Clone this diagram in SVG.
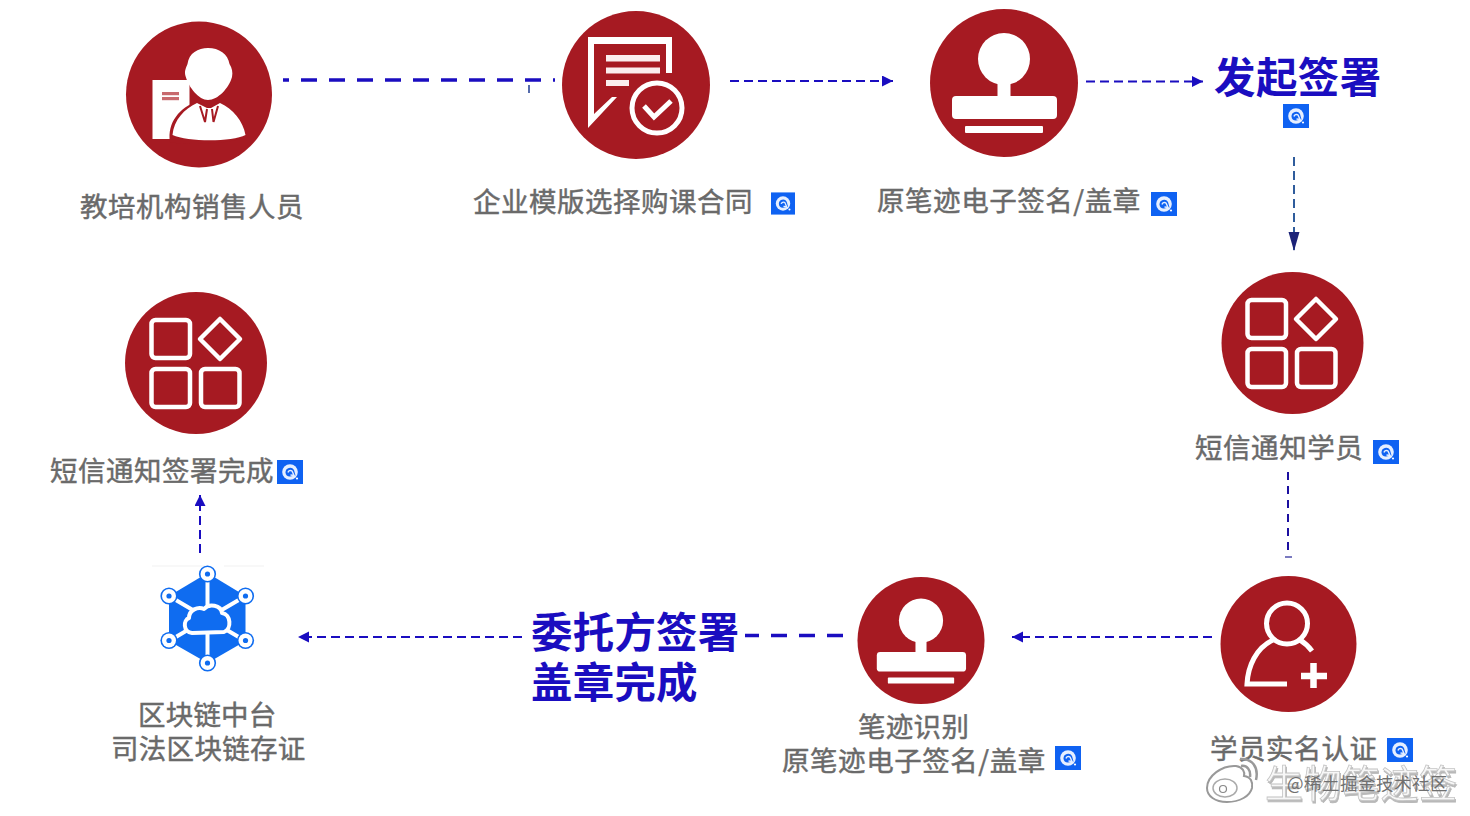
<svg xmlns="http://www.w3.org/2000/svg" width="1470" height="816" viewBox="0 0 1470 816">
<style>
text{font-family:"Noto Sans CJK SC","Noto Sans",sans-serif}
.lb{font-size:27.5px;font-weight:400;fill:#6a6a6a;stroke:#6a6a6a;stroke-width:.45}
.hd{font-size:41.5px;font-weight:700;fill:#1a0dc0}
.disc{fill:#a61a22}
.w{fill:#fff}
.ws{fill:none;stroke:#fff;stroke-width:4.5}
.c{fill:none;stroke:#1a0dc0}
.thin{stroke-width:2;stroke-dasharray:9 5}
.thick{stroke-width:3.6;stroke-dasharray:16 12}
</style>
<defs>
<filter id="wmshadow" x="-10%" y="-20%" width="120%" height="150%"><feDropShadow dx="1" dy="2" stdDeviation=".6" flood-color="#b8b8b8"/></filter>
<marker id="ah" markerUnits="userSpaceOnUse" markerWidth="12" markerHeight="12" refX="11" refY="5.5" orient="auto"><path d="M0 0L11 5.5L0 11Z" fill="#1a0dc0"/></marker>
<marker id="ahn" markerUnits="userSpaceOnUse" markerWidth="20" markerHeight="12" refX="19" refY="5.5" orient="auto"><path d="M0 0L19 5.5L0 11Z" fill="#1c2378"/></marker>
<symbol id="badge" width="26" height="24" viewBox="0 0 26 24" overflow="visible">
<rect width="26" height="24" fill="#0f62f2"/>
<circle cx="13" cy="12" r="7.800" fill="#e6efff"/>
<path d="M8.500 12.500a4.600 4.600 0 0 1 8.500-2.500l1.500 5.500L13 16.500a4.400 4.400 0 0 1-4.500-4Z" fill="#0f62f2"/>
<path d="M11 12.500a2.600 2.600 0 0 1 4-1.500l2 4.500-3.500-.5" fill="none" stroke="#e6efff" stroke-width="1.400"/>
<circle cx="20" cy="18.500" r="1.100" fill="#fff"/>
</symbol>
<g id="stamp-art">
<circle cx="0" cy="-24" r="26" class="w"/>
<rect x="-6.500" y="-5" width="13" height="20" class="w"/>
<rect x="-52" y="13" width="105" height="23" rx="4" class="w"/>
<rect x="-39" y="43" width="78" height="7" rx="1" class="w"/>
</g>
<g id="grid-art">
<rect x="-45" y="-43" width="38.500" height="38" rx="4" class="ws"/>
<rect x="-45" y="6" width="38.500" height="38" rx="4" class="ws"/>
<rect x="4.500" y="6" width="38.500" height="38" rx="4" class="ws"/>
<path d="M23.500 -44L43.500 -24L23.500 -4L3.500 -24Z" class="ws" stroke-linejoin="round"/>
</g>
<g id="hn"><circle r="8.600" fill="#0f6cf0"/><circle r="7" fill="#fff"/><circle r="2.600" fill="#0f6cf0"/></g>
</defs>
<rect width="1470" height="816" fill="#fff"/>

<g id="connectors">
<path class="c thick" d="M283 80H555" stroke-dashoffset="10"/>
<path d="M529 85V93" fill="none" stroke="#1c3a90" stroke-width="1.500"/>
<path class="c thin" d="M730 81H893" marker-end="url(#ah)"/>
<path class="c thin" d="M1086 81.500H1203" marker-end="url(#ah)"/>
<path d="M1294 157V251" fill="none" stroke="#2f5c9c" stroke-width="2" stroke-dasharray="9 5" marker-end="url(#ahn)"/>
<path d="M1288 472V554" fill="none" stroke="#1c10a0" stroke-width="2" stroke-dasharray="8 6"/>
<path d="M1285 557H1292" stroke="#7a7ac0" stroke-width="2"/>
<path class="c thin" d="M1212 637H1012" marker-end="url(#ah)"/>
<path class="c thick" d="M843 635.500H745"/>
<path class="c thin" d="M522 637H298" marker-end="url(#ah)"/>
<path class="c thin" d="M200 553V495" marker-end="url(#ah)"/>
</g>

<g id="node-sales">
<circle class="disc" cx="199" cy="94.500" r="73"/>
<rect x="152.500" y="80" width="37" height="59" class="w"/>
<rect x="162" y="92" width="17" height="3.200" fill="#c86a6e"/>
<rect x="162" y="97" width="17" height="3.200" fill="#c86a6e"/>
<path d="M170 142C167 122 180 108 197 101L209 108L221 101C234 107 245 120 247 136C235 144 185 146 170 142Z" fill="#a61a22"/>
<path d="M172.500 135C174 120 184 109 197 103L207 108H211L220 103C233 109 243 121 245.500 135C232 142 188 142 172.500 135Z" class="w"/>
<path d="M200 106L205 122L207 109M212 109L213.500 122L218 106" fill="none" stroke="#a61a22" stroke-width="2"/>
<path d="M185.500 76C184 71 186 68 187.500 64C189 53 198 48 208 48C219 48 228 54 229.500 64C232 68 233 72 232 77C229 88 218 100 208 100C199 100 189 88 185.500 76Z" class="w"/>
<text class="lb" x="80" y="217" letter-spacing=".5">教培机构销售人员</text>
</g>

<g id="node-contract">
<circle class="disc" cx="636" cy="85" r="74"/>
<path d="M588 37H672V73H666V44H594V114L612 97H617L588 128Z" class="w"/>
<rect x="606" y="55" width="54" height="6.500" fill="#fbeeee"/>
<rect x="606" y="67.500" width="54" height="6" fill="#fbeeee"/>
<rect x="606" y="80" width="23" height="6" fill="#fbeeee"/>
<circle cx="657" cy="108" r="25" class="ws" style="stroke-width:5"/>
<path d="M644 106L654 117L671 101" fill="none" stroke="#fff" stroke-width="5"/>
<text class="lb" x="473" y="212" letter-spacing=".5">企业模版选择购课合同</text>
<use href="#badge" x="771" y="191" width="24" height="25"/>
</g>

<g id="node-seal">
<circle class="disc" cx="1004" cy="83" r="74"/>
<use href="#stamp-art" x="1004" y="83"/>
<text class="lb" x="877" y="211" letter-spacing=".55">原笔迹电子签名/盖章</text>
<use href="#badge" x="1151" y="192"/>
</g>

<g id="node-start">
<text class="hd" x="1214" y="93" letter-spacing=".4">发起签署</text>
<use href="#badge" x="1283" y="104"/>
</g>

<g id="node-sms-student">
<circle class="disc" cx="1292.500" cy="343" r="71"/>
<use href="#grid-art" x="1292.500" y="343"/>
<text class="lb" x="1195" y="458" letter-spacing=".55">短信通知学员</text>
<use href="#badge" x="1373" y="440"/>
</g>

<g id="node-realname">
<circle class="disc" cx="1288.500" cy="644" r="68"/>
<circle cx="1287" cy="623.500" r="20.500" class="ws" style="stroke-width:5"/>
<path d="M1273 640C1256 648 1248 666 1247 684H1287M1300 640C1305 643 1309 647 1312 651" class="ws" style="stroke-width:5"/>
<path d="M1301 676H1327M1313.500 663V688" class="ws" style="stroke-width:6.500"/>
<text class="lb" x="1210" y="759" letter-spacing=".4">学员实名认证</text>
<use href="#badge" x="1387" y="738"/>
</g>

<g id="node-handwriting">
<circle class="disc" cx="921" cy="640.500" r="63.500"/>
<use href="#stamp-art" transform="translate(921 641) scale(.85)"/>
<text class="lb" x="858" y="737" letter-spacing=".3">笔迹识别</text>
<text class="lb" x="782" y="771" letter-spacing=".55">原笔迹电子签名/盖章</text>
<use href="#badge" x="1055" y="746"/>
</g>

<g id="node-entrusted">
<text class="hd" x="531" y="648" letter-spacing=".2">委托方签署</text>
<text class="hd" x="531" y="698" letter-spacing=".2">盖章完成</text>
</g>

<g id="node-blockchain">
<path d="M152 566H205M224 566H264" stroke="#f1f1f1" stroke-width="1"/>
<path d="M207.500 573L245.500 596V641L207.500 663L169 641V596Z" fill="#0f6cf0"/>
<path d="M207.500 573V663M169 596L245.500 641M245.500 596L169 641" stroke="#fff" stroke-width="4"/>
<path d="M192 633C183 632 183 620 189 618C189 610 198 606 204 609C209 603 221 605 222 613C231 614 232 629 224 632Z" fill="#0f6cf0" stroke="#fff" stroke-width="4" stroke-linejoin="round"/>
<use href="#hn" x="207.500" y="574"/>
<use href="#hn" x="169" y="596"/>
<use href="#hn" x="245.500" y="596"/>
<use href="#hn" x="169" y="640.500"/>
<use href="#hn" x="245.500" y="640.500"/>
<use href="#hn" x="207.500" y="663"/>
<text class="lb" x="138" y="725" letter-spacing=".2">区块链中台</text>
<text class="lb" x="111" y="759" letter-spacing=".3">司法区块链存证</text>
</g>

<g id="node-sms-done">
<circle class="disc" cx="196" cy="363" r="71"/>
<use href="#grid-art" x="196.500" y="363"/>
<text class="lb" x="50" y="481" letter-spacing=".5">短信通知签署完成</text>
<use href="#badge" x="277" y="460"/>
</g>

<g id="watermark">
<path d="M1207 788C1207 776 1222 765 1236 766C1243 767 1245 772 1244 776C1251 777 1253 782 1252 788C1250 796 1240 802 1227 802C1215 802 1207 796 1207 788Z" fill="#fff" stroke="#999" stroke-width="2"/>
<ellipse cx="1225" cy="788" rx="12" ry="9" fill="none" stroke="#aaa" stroke-width="1.500"/>
<circle cx="1223" cy="789" r="3.500" fill="none" stroke="#888" stroke-width="1.200"/>
<path d="M1240 759C1252 758 1259 767 1256 780M1241 766C1247 765 1251 770 1250 777" fill="none" stroke="#999" stroke-width="2.500"/>
<text x="1265" y="797" font-size="38" fill="#f7f7f7" stroke="#c4c4c4" stroke-width=".8" letter-spacing=".5" filter="url(#wmshadow)">生物笔迹签</text>
<text x="1287" y="790" font-size="17.500" fill="#707070" letter-spacing=".5">@稀土掘金技术社区</text>
</g>
</svg>
